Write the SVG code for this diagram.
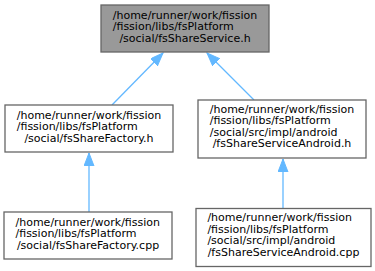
<svg xmlns="http://www.w3.org/2000/svg" width="375" height="271" viewBox="0 0 375 271">
<style>
.box{fill:#ffffff;stroke:#666666;stroke-width:1.3}
.cur{fill:#999999;stroke:#666666;stroke-width:1.3}
text{font-family:"DejaVu Sans","Liberation Sans",sans-serif;font-size:11px;fill:#000000}
.l{text-anchor:start}
.c{text-anchor:middle}
.edge{stroke:#63b8ff;stroke-width:1.3;fill:none}
</style>
<defs>
<marker id="ah" markerUnits="userSpaceOnUse" markerWidth="14" markerHeight="11" refX="13" refY="5" orient="auto">
<path d="M0,0 L13,5 L0,10 Z" fill="#63b8ff" stroke="#63b8ff" stroke-width="1"/>
</marker>
</defs>
<g id="edges">
<path class="edge" d="M112,105 L163,53" marker-end="url(#ah)"/>
<path class="edge" d="M254,100 L207,53" marker-end="url(#ah)"/>
<path class="edge" d="M89,212 L89,153" marker-end="url(#ah)"/>
<path class="edge" d="M283,208 L283,159" marker-end="url(#ah)"/>
</g>
<g id="node1">
<rect class="cur" x="101" y="5" width="168" height="47"/>
<text class="l" x="112.75" y="18.5">/home/runner/work/fission</text>
<text class="l" x="112.75" y="30.2">/fission/libs/fsPlatform</text>
<text class="c" x="185" y="41.9">/social/fsShareService.h</text>
</g>
<g id="node2">
<rect class="box" x="5" y="105" width="168" height="47"/>
<text class="l" x="16.75" y="118.5">/home/runner/work/fission</text>
<text class="l" x="16.75" y="130.2">/fission/libs/fsPlatform</text>
<text class="c" x="89" y="141.9">/social/fsShareFactory.h</text>
</g>
<g id="node3">
<rect class="box" x="4" y="212" width="168" height="47"/>
<text class="l" x="15.5" y="225.5">/home/runner/work/fission</text>
<text class="l" x="15.5" y="237.2">/fission/libs/fsPlatform</text>
<text class="c" x="88" y="248.9">/social/fsShareFactory.cpp</text>
</g>
<g id="node4">
<rect class="box" x="198" y="100" width="168" height="58"/>
<text class="l" x="209.75" y="112.8">/home/runner/work/fission</text>
<text class="l" x="209.75" y="124.3">/fission/libs/fsPlatform</text>
<text class="l" x="209.75" y="135.8">/social/src/impl/android</text>
<text class="c" x="282" y="147.3">/fsShareServiceAndroid.h</text>
</g>
<g id="node5">
<rect class="box" x="196" y="208.5" width="175" height="58"/>
<text class="l" x="207.4" y="221.3">/home/runner/work/fission</text>
<text class="l" x="207.4" y="232.8">/fission/libs/fsPlatform</text>
<text class="l" x="207.4" y="244.3">/social/src/impl/android</text>
<text class="c" x="283.5" y="255.8">/fsShareServiceAndroid.cpp</text>
</g>
</svg>
